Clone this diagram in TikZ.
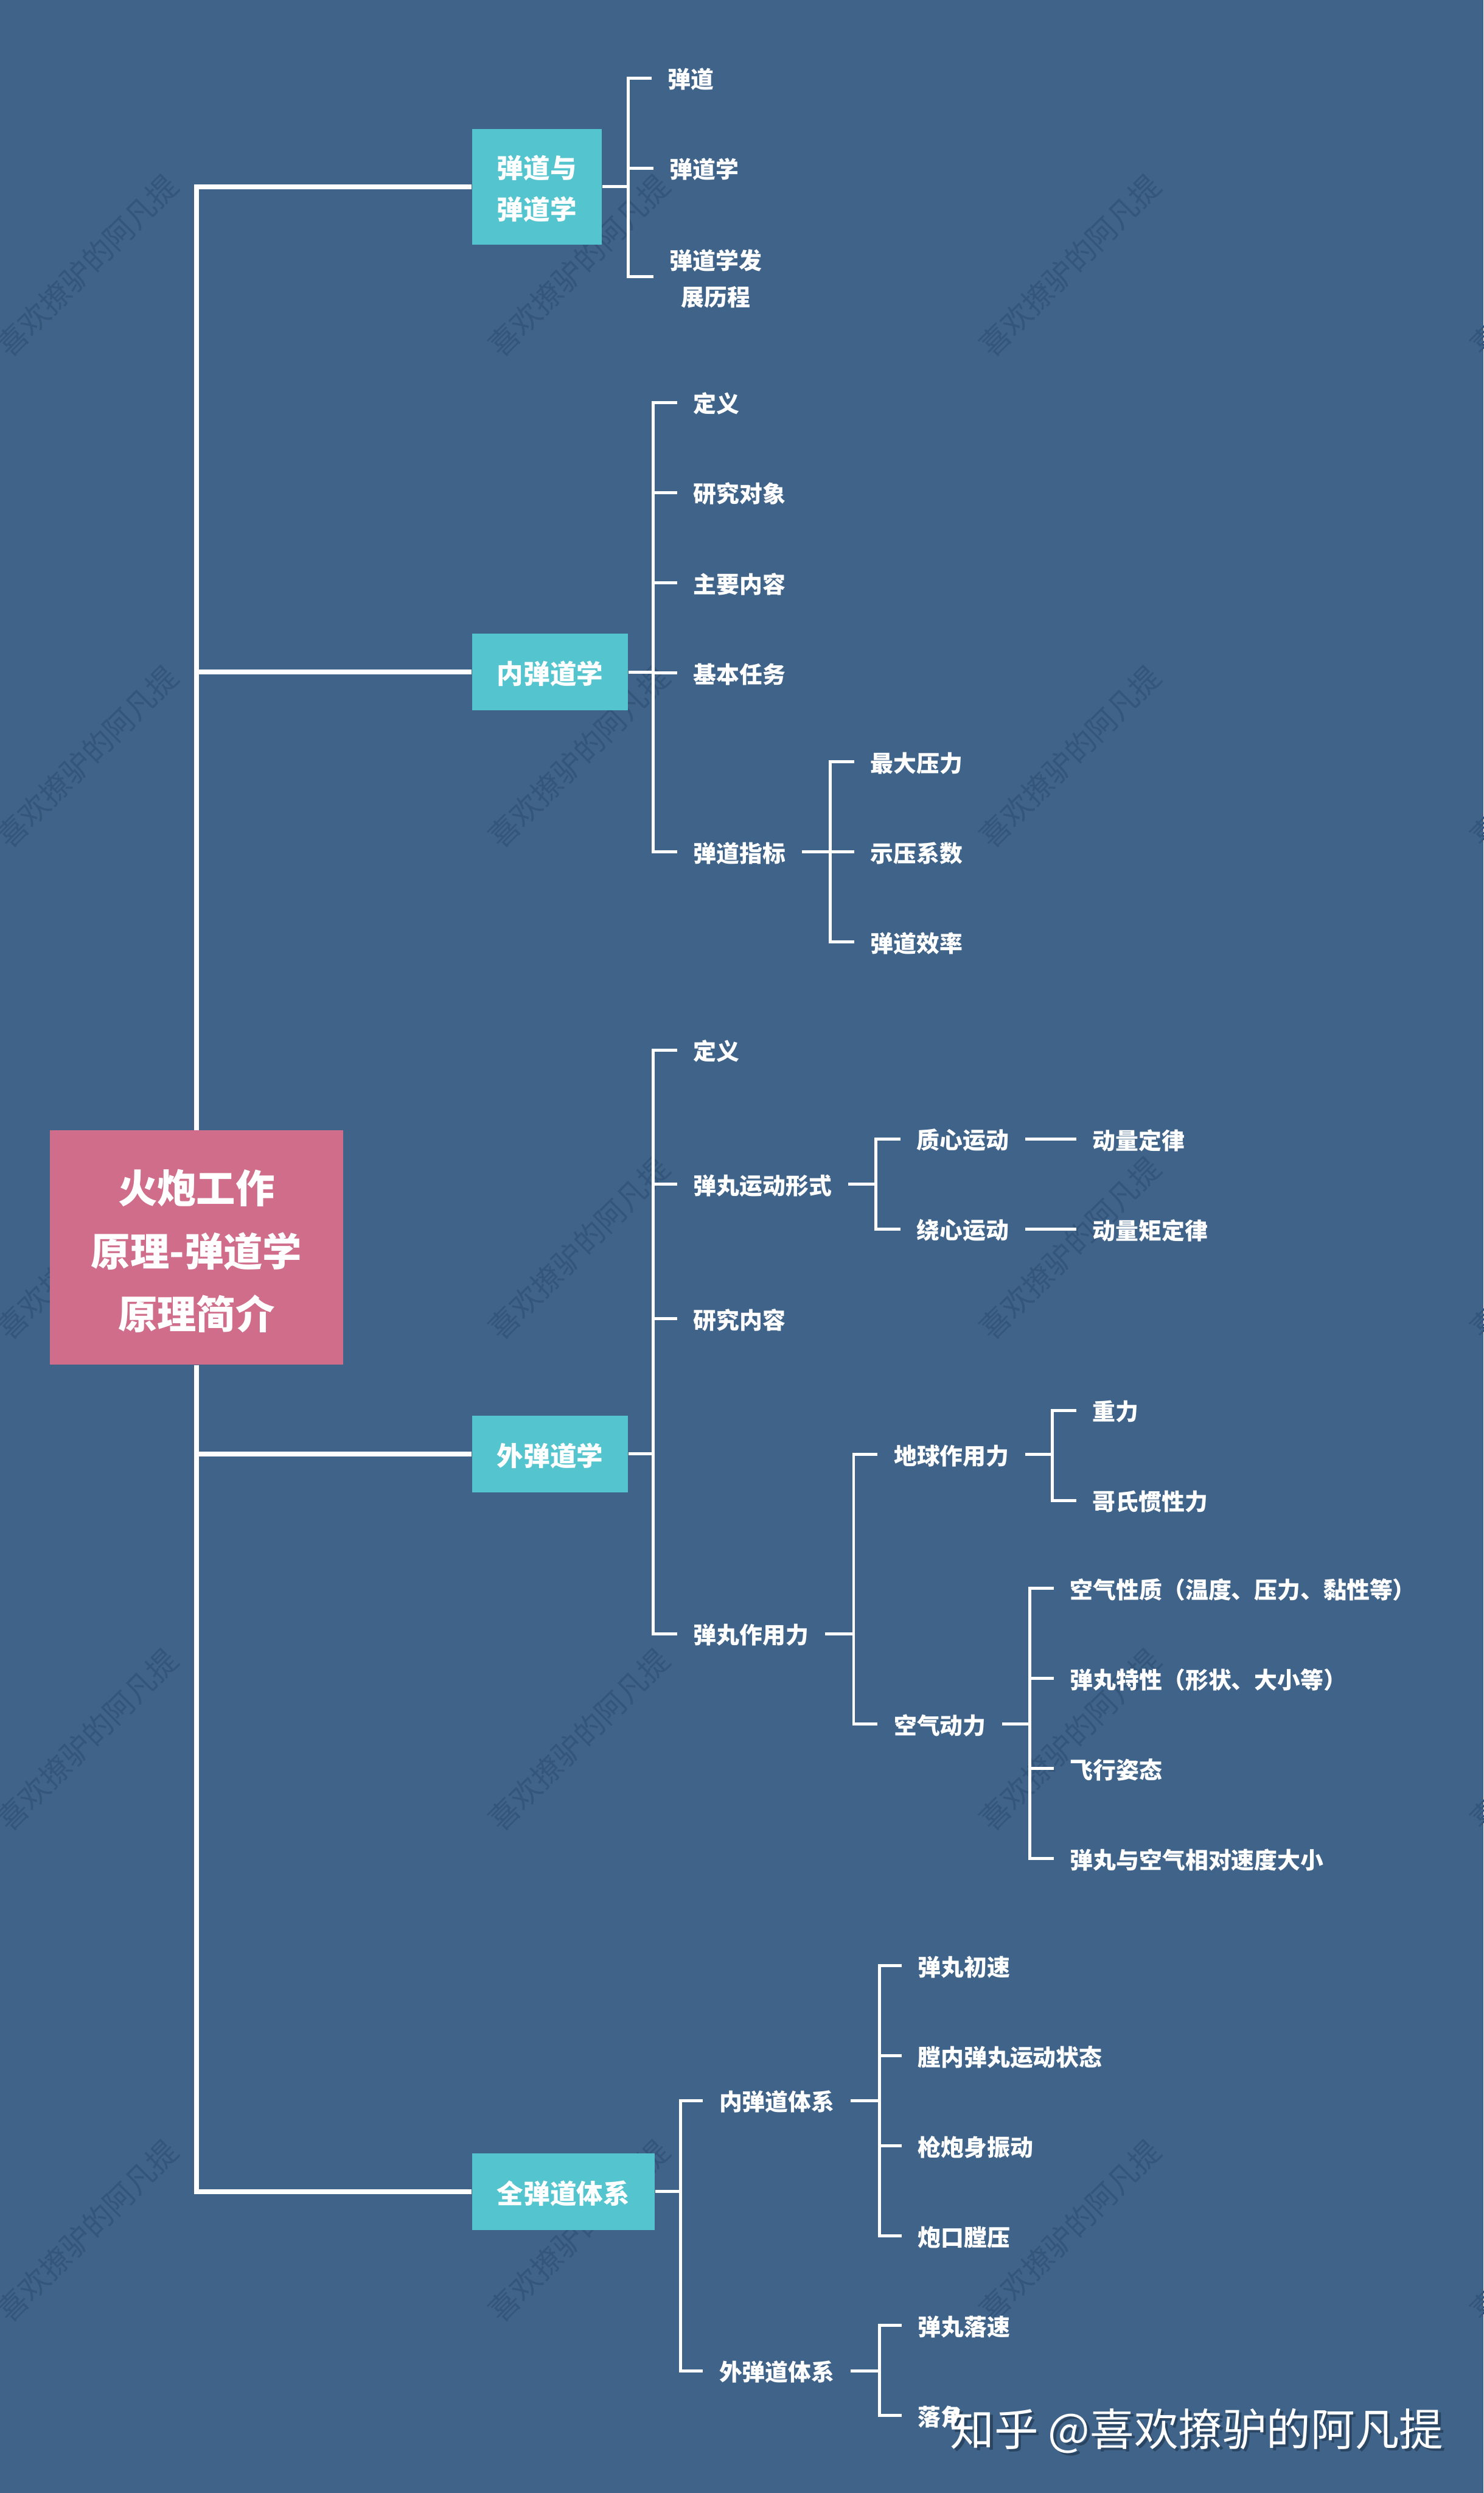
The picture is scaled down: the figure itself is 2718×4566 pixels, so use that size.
\documentclass[tikz,border=0pt]{standalone}
\usepackage{fontspec}
\setmainfont{Noto Sans CJK SC}
\usetikzlibrary{positioning}
\definecolor{pagebg}{HTML}{3F6389}
\definecolor{markgray}{HTML}{35567B}
\definecolor{tealbox}{HTML}{54C4CE}
\definecolor{rootpink}{HTML}{CF6D8B}
\definecolor{shadowblue}{HTML}{2A4562}
\tikzset{
rootbox/.style={fill=rootpink, text=white, minimum width=5.37cm, minimum height=4.29cm, align=center, font=\fontsize{20.4}{32.7}\selectfont\bfseries, text height=3.04cm},
catbox/.style={fill=tealbox, text=white, inner xsep=0.46cm, minimum height=1.4cm, align=center, font=\fontsize{13.8}{21.5}\selectfont\bfseries, execute at begin node={\rule{0pt}{0.49cm}}},
leaf/.style={text=white, inner xsep=0.29cm, inner ysep=0pt, anchor=west, align=center, font=\fontsize{12}{19}\selectfont\bfseries, execute at begin node={\rule{0pt}{0.415cm}}},
under/.style={below=1.65cm of #1.west, anchor=west}, % next row, same left edge
trunk/.style={draw=white, line width=0.09cm},
branch/.style={draw=white, line width=0.055cm},
markname/.style={text=markgray, rotate=45, font=\fontsize{15.7}{15.7}\selectfont},
sign/.style={inner sep=0pt, anchor=east, font=\fontsize{23}{23}\selectfont},
}

\begin{document}
\begin{tikzpicture}[x=0.01cm, y=-0.01cm]
  \fill[pagebg] (0,0) rectangle (2718,4566);
  \useasboundingbox (0,0) rectangle (2718,4566);

  % watermark behind everything
  \foreach \col in {160,1060,1960,2860}
    \foreach \row in {486,1386,2286,3186,4086}
      \node[markname] (wm\col\row) at (\col,\row) {喜欢撩驴的阿凡提};

  \node[rootbox] (root) at (360,2285) {火炮工作\\原理-弹道学\\原理简介};
  \node[catbox, minimum height=2.12cm, anchor=west, text height=1.24cm] (ball) at (864,342) {弹道与\\弹道学};
  \node[catbox, anchor=west] (inner) at (864,1231) {内弹道学};
  \node[catbox, anchor=west] (outer) at (864,2663) {外弹道学};
  \node[catbox, anchor=west] (whole) at (864,4014) {全弹道体系};

  % ballistics
  \node[leaf] (ball1) at (1194,143) {弹道};
  \node[leaf] (ball2) at (1197,308) {弹道学};
  \node[leaf, text height=1.10cm] (ball3) at (1197,507) {弹道学发\\展历程};

  % interior
  \node[leaf] (in1) at (1241,737) {定义};
  \node[leaf, under=in1] (in2) {研究对象};
  \node[leaf, under=in2] (in3) {主要内容};
  \node[leaf, under=in3] (in4) {基本任务};
  \node[leaf] (in5) at (1241,1560) {弹道指标};
  \node[leaf] (idx1) at (1565,1395) {最大压力};
  \node[leaf, under=idx1] (idx2) {示压系数};
  \node[leaf, under=idx2] (idx3) {弹道效率};

  % exterior
  \node[leaf] (ex1) at (1241,1923) {定义};
  \node[leaf] (ex2) at (1241,2169) {弹丸运动形式};
  \node[leaf] (ex3) at (1241,2415) {研究内容};
  \node[leaf] (ex4) at (1241,2992) {弹丸作用力};
  \node[leaf] (mot1) at (1650,2086) {质心运动};
  \node[leaf, under=mot1] (mot2) {绕心运动};
  \node[leaf] (law1) at (1972,2086) {动量定律};
  \node[leaf, under=law1] (law2) {动量矩定律};
  \node[leaf] (frc1) at (1608,2664) {地球作用力};
  \node[leaf] (frc2) at (1608,3158) {空气动力};
  \node[leaf] (gra1) at (1972,2583) {重力};
  \node[leaf, under=gra1] (gra2) {哥氏惯性力};
  \node[leaf] (air1) at (1931,2909) {空气性质（温度、压力、黏性等）};
  \node[leaf, under=air1] (air2) {弹丸特性（形状、大小等）};
  \node[leaf, under=air2] (air3) {飞行姿态};
  \node[leaf, under=air3] (air4) {弹丸与空气相对速度大小};

  % whole system
  \node[leaf] (sys1) at (1288,3847) {内弹道体系};
  \node[leaf] (sys2) at (1288,4342) {外弹道体系};
  \node[leaf] (isy1) at (1652,3600) {弹丸初速};
  \node[leaf, under=isy1] (isy2) {膛内弹丸运动状态};
  \node[leaf, under=isy2] (isy3) {枪炮身振动};
  \node[leaf, under=isy3] (isy4) {炮口膛压};
  \node[leaf] (osy1) at (1652,4259) {弹丸落速};
  \node[leaf, under=osy1] (osy2) {落角};

  % trunk from the root
  \draw[trunk] (root.north) |- (ball.west);
  \draw[trunk] (root.north) |- (inner.west);
  \draw[trunk] (root.south) |- (outer.west);
  \draw[trunk] (root.south) |- (whole.west);

  % branches: parent, junction, children
  \draw[branch] (ball.east) -- (1151,342);
  \foreach \c in {ball1,ball2,ball3} \draw[branch] (1151,342) |- (\c.west);
  \draw[branch] (inner.east) -- (1197,1231);
  \foreach \c in {in1,in2,in3,in4,in5} \draw[branch] (1197,1231) |- (\c.west);
  \draw[branch] (in5.east) -- (1521,1560);
  \foreach \c in {idx1,idx2,idx3} \draw[branch] (1521,1560) |- (\c.west);
  \draw[branch] (outer.east) -- (1197,2663);
  \foreach \c in {ex1,ex2,ex3,ex4} \draw[branch] (1197,2663) |- (\c.west);
  \draw[branch] (ex2.east) -- (1605,2169);
  \foreach \c in {mot1,mot2} \draw[branch] (1605,2169) |- (\c.west);
  \draw[branch] (mot1) -- (law1);
  \draw[branch] (mot2) -- (law2);
  \draw[branch] (ex4.east) -- (1564,2992);
  \foreach \c in {frc1,frc2} \draw[branch] (1564,2992) |- (\c.west);
  \draw[branch] (frc1.east) -- (1928,2664);
  \foreach \c in {gra1,gra2} \draw[branch] (1928,2664) |- (\c.west);
  \draw[branch] (frc2.east) -- (1887,3158);
  \foreach \c in {air1,air2,air3,air4} \draw[branch] (1887,3158) |- (\c.west);
  \draw[branch] (whole.east) -- (1247,4014);
  \foreach \c in {sys1,sys2} \draw[branch] (1247,4014) |- (\c.west);
  \draw[branch] (sys1.east) -- (1611,3847);
  \foreach \c in {isy1,isy2,isy3,isy4} \draw[branch] (1611,3847) |- (\c.west);
  \draw[branch] (sys2.east) -- (1611,4342);
  \foreach \c in {osy1,osy2} \draw[branch] (1611,4342) |- (\c.west);

  % signature, shadow first
  \node[sign, text=shadowblue] (signshadow) at (2650,4457) {知乎 @喜欢撩驴的阿凡提};
  \node[sign, text=white] (signtext) at (2645,4452) {知乎 @喜欢撩驴的阿凡提};
\end{tikzpicture}
\end{document}
